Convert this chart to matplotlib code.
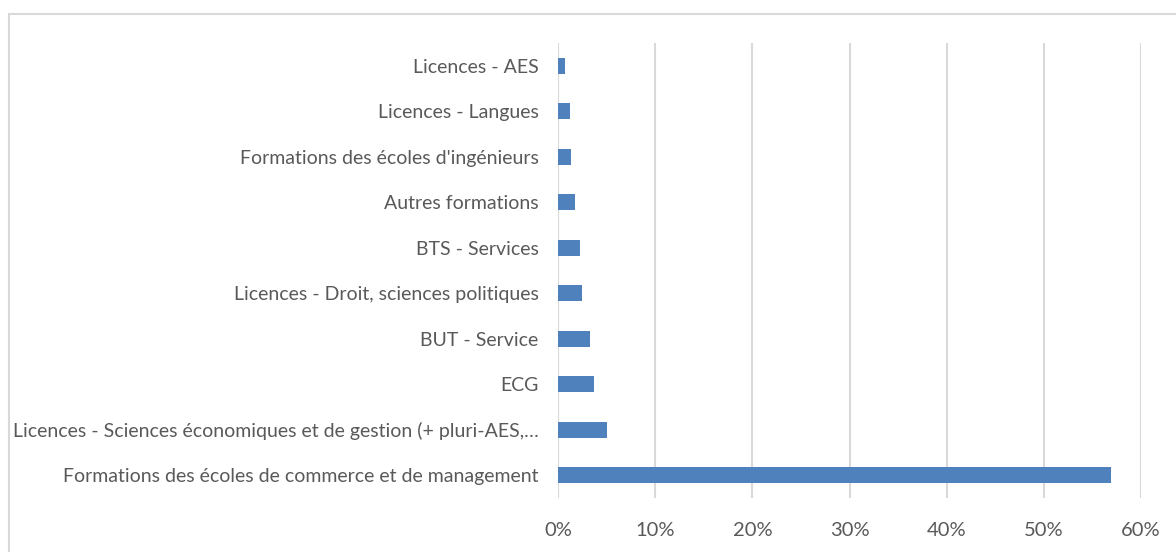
import matplotlib
matplotlib.use("Agg")
import matplotlib.pyplot as plt
from matplotlib.patches import Rectangle
from matplotlib.ticker import FuncFormatter

# categories from bottom to top
formations = [
    "Formations des écoles de commerce et de management",
    "Licences - Sciences économiques et de gestion (+ pluri-AES,…",
    "ECG",
    "BUT - Service",
    "Licences - Droit, sciences politiques",
    "BTS - Services",
    "Autres formations",
    "Formations des écoles d'ingénieurs",
    "Licences - Langues",
    "Licences - AES",
]
parts = [0.569, 0.050, 0.037, 0.0325, 0.0245, 0.023, 0.0176, 0.0138, 0.0121, 0.0077]
xticks = [0, 0.1, 0.2, 0.3, 0.4, 0.5, 0.6]

plt.rcParams['font.family'] = ['Lato', 'DejaVu Sans']

fig = plt.figure(figsize=(11.76, 5.52), dpi=100)
# light frame around the chart, as in the Excel export
fig.patches.append(Rectangle((9 / 1176, -0.1), 1.2, 1.1 - 14 / 552,
                             transform=fig.transFigure, fill=False,
                             edgecolor='#d9d9d9', linewidth=1.5))

ax = fig.add_axes([558 / 1176, 1 - 498 / 552, (1141 - 558) / 1176, (498 - 43) / 552])
ax.barh(range(len(formations)), parts, height=0.36, color='#4f81bd', zorder=3)

ax.set_xlim(0, 0.6)
ax.set_ylim(-0.5, len(formations) - 0.5)
ax.set_xticks(xticks)
ax.xaxis.set_major_formatter(FuncFormatter(lambda v, p: f"{v * 100:.0f}%"))
ax.set_yticks(range(len(formations)))
ax.set_yticklabels(formations)

ax.grid(axis='x', color='#d9d9d9', linewidth=1.5, zorder=0)
for s in ax.spines.values():
    s.set_visible(False)
ax.tick_params(axis='both', length=0, colors='#595959')
ax.tick_params(axis='x', labelsize=14.5, pad=17)
ax.tick_params(axis='y', labelsize=14, pad=14)

fig.savefig("out.png", dpi=100)
